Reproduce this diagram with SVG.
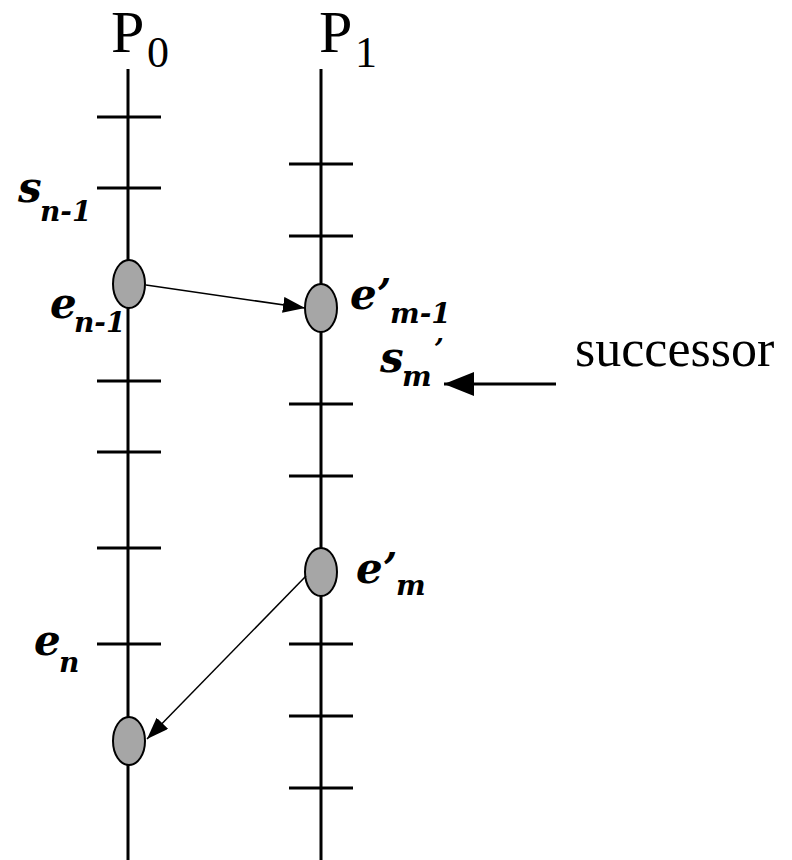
<svg xmlns="http://www.w3.org/2000/svg" width="792" height="860" viewBox="0 0 792 860">
<style>
.ln{stroke:#000;stroke-width:3;fill:none}
.tk{stroke:#000;stroke-width:3}
.ev{fill:#a6a6a6;stroke:#000;stroke-width:2}
.ar{stroke:#000;stroke-width:1.5;fill:none}
</style>
<defs>
<marker id="ah" viewBox="0 0 30 24" refX="30" refY="12" markerWidth="30" markerHeight="24" markerUnits="userSpaceOnUse" orient="auto">
<path d="M0,0 L30,12 L0,24 z" fill="#000"/>
</marker>
<marker id="ah2" viewBox="0 0 22 16" refX="22" refY="8" markerWidth="22" markerHeight="16" markerUnits="userSpaceOnUse" orient="auto">
<path d="M0,0 L22,8 L0,16 z" fill="#000"/>
</marker>
</defs>
<g id="P0">
<line class="ln" x1="128" y1="69" x2="128" y2="860"/>
<text font-family="Liberation Serif" font-size="60" x="111" y="52">P</text><text font-family="Liberation Serif" font-size="44" x="147" y="67">0</text>
<line class="tk" x1="97" y1="117" x2="161" y2="117"/>
<line class="tk" x1="97" y1="188" x2="161" y2="188"/>
<line class="tk" x1="97" y1="381" x2="161" y2="381"/>
<line class="tk" x1="97" y1="452" x2="161" y2="452"/>
<line class="tk" x1="97" y1="548" x2="161" y2="548"/>
<line class="tk" x1="97" y1="644" x2="161" y2="644"/>
</g>
<g id="P1">
<line class="ln" x1="321" y1="69" x2="321" y2="860"/>
<text font-family="Liberation Serif" font-size="60" x="319" y="52">P</text><text font-family="Liberation Serif" font-size="44" x="355" y="67">1</text>
<line class="tk" x1="289" y1="164" x2="353" y2="164"/>
<line class="tk" x1="289" y1="236" x2="353" y2="236"/>
<line class="tk" x1="289" y1="404" x2="353" y2="404"/>
<line class="tk" x1="289" y1="476" x2="353" y2="476"/>
<line class="tk" x1="289" y1="644" x2="353" y2="644"/>
<line class="tk" x1="289" y1="716" x2="353" y2="716"/>
<line class="tk" x1="289" y1="788" x2="353" y2="788"/>
</g>
<g id="s_n-1">
<text font-family="DejaVu Serif" font-weight="bold" font-style="italic" font-size="42" x="18" y="202">s</text>
<text font-family="DejaVu Serif" font-weight="bold" font-style="italic" font-size="28" x="40" y="221">n-1</text>
</g>
<g id="e_n-1">
<ellipse class="ev" cx="129" cy="284" rx="16" ry="24"/>
<text font-family="DejaVu Serif" font-weight="bold" font-style="italic" font-size="42" x="50" y="318">e</text>
<text font-family="DejaVu Serif" font-weight="bold" font-style="italic" font-size="28" x="74" y="332">n-1</text>
</g>
<g id="e_m-1">
<ellipse class="ev" cx="321" cy="308" rx="16" ry="24"/>
<text font-family="DejaVu Serif" font-weight="bold" font-style="italic" font-size="42" x="350" y="309">e’</text>
<text font-family="DejaVu Serif" font-weight="bold" font-style="italic" font-size="28" x="390" y="323">m-1</text>
</g>
<g id="s_m">
<text font-family="DejaVu Serif" font-weight="bold" font-style="italic" font-size="42" x="380" y="372">s</text>
<text font-family="DejaVu Serif" font-weight="bold" font-style="italic" font-size="28" x="402" y="386">m</text>
<text font-family="DejaVu Serif" font-weight="bold" font-style="italic" font-size="28" x="434" y="359">’</text>
</g>
<g id="e_m">
<ellipse class="ev" cx="321" cy="572" rx="16" ry="24"/>
<text font-family="DejaVu Serif" font-weight="bold" font-style="italic" font-size="42" x="356" y="583">e’</text>
<text font-family="DejaVu Serif" font-weight="bold" font-style="italic" font-size="28" x="396" y="595">m</text>
</g>
<g id="e_n">
<text font-family="DejaVu Serif" font-weight="bold" font-style="italic" font-size="42" x="34" y="655">e</text>
<text font-family="DejaVu Serif" font-weight="bold" font-style="italic" font-size="28" x="59" y="672">n</text>
</g>
<g id="e_recv"><ellipse class="ev" cx="129" cy="741" rx="16" ry="24"/></g>
<g id="successor"><text font-family="Liberation Serif" font-size="52" x="575" y="366">successor</text></g>
<g id="connectors">
<line class="ar" x1="146" y1="285" x2="305" y2="308" marker-end="url(#ah2)"/>
<line class="ar" x1="306" y1="576" x2="147" y2="739" marker-end="url(#ah2)"/>
<line stroke="#000" stroke-width="3" x1="556" y1="384" x2="444" y2="384" marker-end="url(#ah)"/>
</g>
</svg>
